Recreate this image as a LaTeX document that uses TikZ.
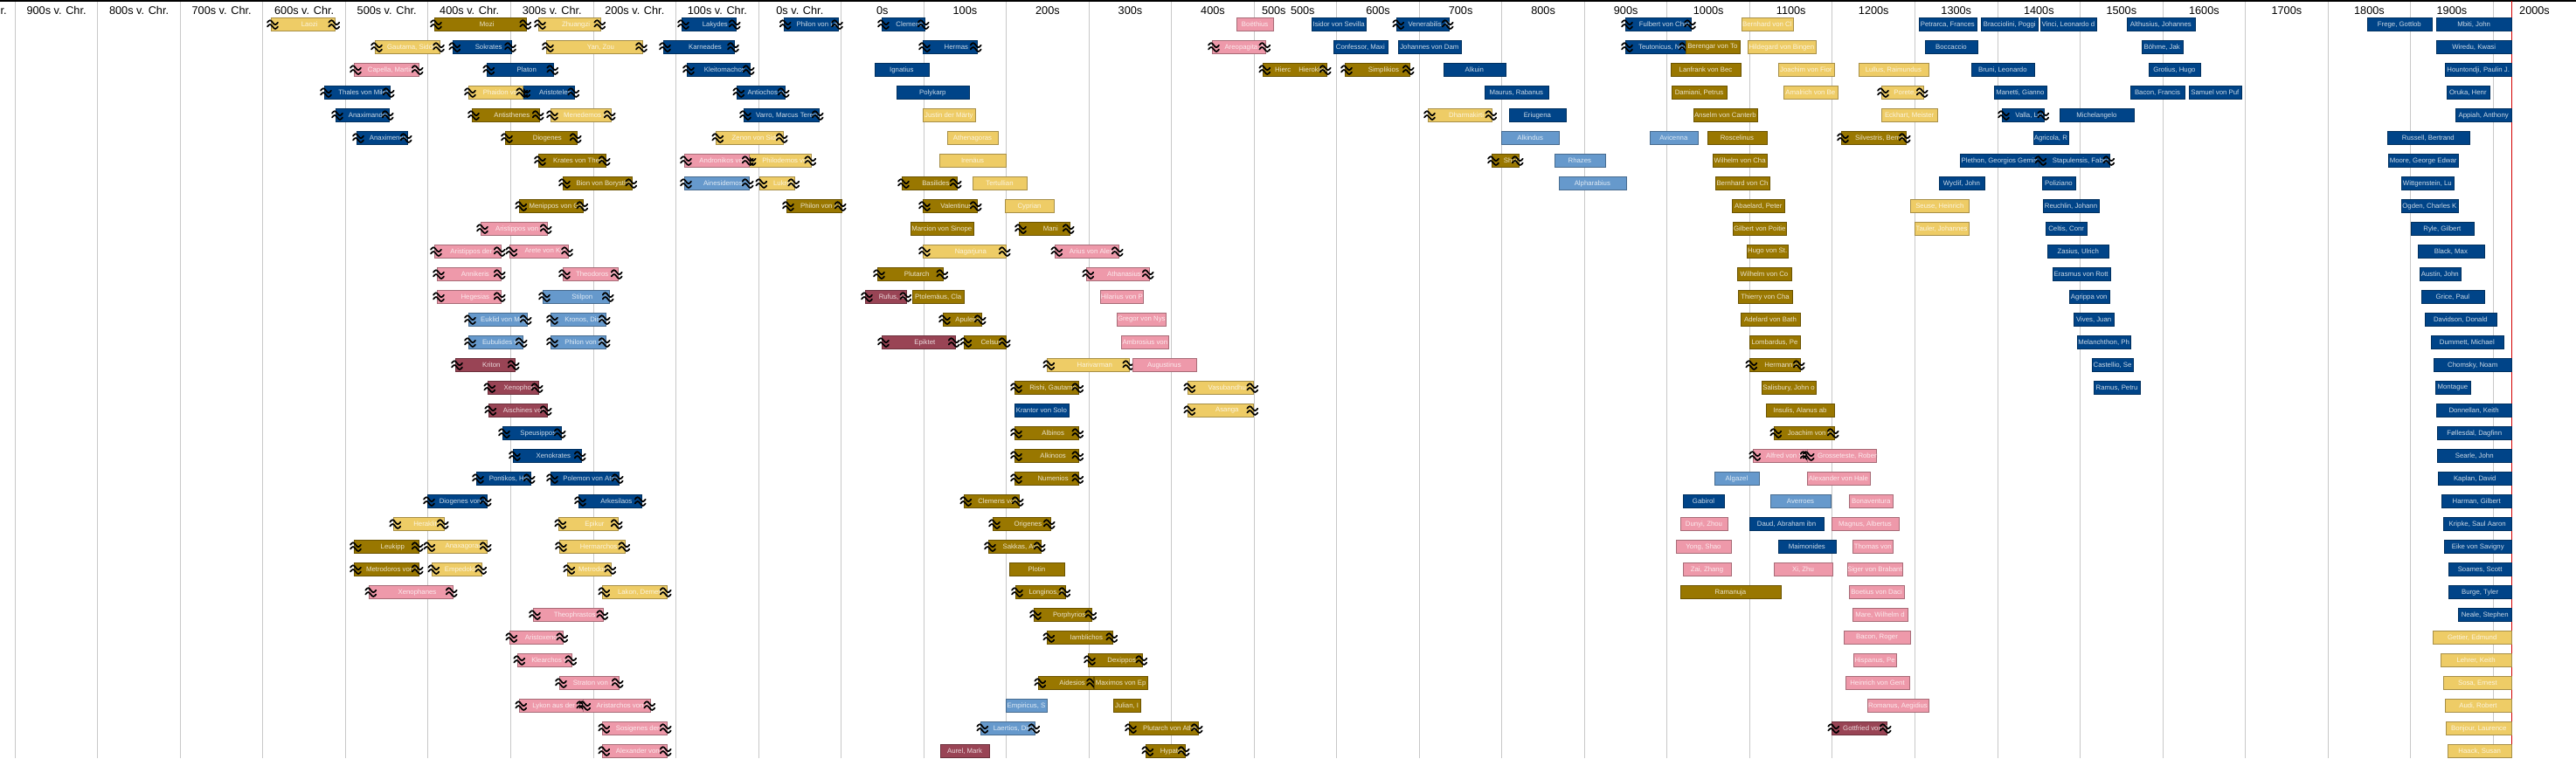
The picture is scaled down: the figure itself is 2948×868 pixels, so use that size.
\documentclass[tikz,border=0pt]{standalone}
\usepackage{fontspec}
\setmainfont{Liberation Sans}
\usepackage{tikz}
\definecolor{tolblue}{HTML}{004488}
\definecolor{tolsky}{HTML}{6699CC}
\definecolor{tololive}{HTML}{997700}
\definecolor{tolsand}{HTML}{EECC66}
\definecolor{tolrose}{HTML}{EE99AA}
\definecolor{tolwine}{HTML}{994455}
\definecolor{gridgrey}{HTML}{C8C8C8}
\definecolor{nowred}{HTML}{D40000}
\newcounter{barno}
\tikzset{
  era/.style={font=\fontsize{12.7}{14}\selectfont, anchor=base, inner sep=0pt},
  century/.style={draw=gridgrey, line width=1pt},
  life/.style={fill=#1, draw=#1!70!black, line width=0.8pt, minimum height=15pt, inner sep=0pt, anchor=west},
  nm/.style={font=\fontsize{7.8}{9}\selectfont, text=#1!20!white, inner sep=0pt},
  approx/.pic={\draw[line width=1.7pt, line cap=round] (-6,-2.3) sin (-3,-4.8) cos (0,-2.3) sin (3,0.2) cos (6,-2.3)
                 (-6,2.5) sin (-3,0) cos (0,2.5) sin (3,5) cos (6,2.5);},
}
% colour, from, to, row, approx ends (1 left, 2 right, 3 both), name
\newcommand\lifebar[6]{%
  \stepcounter{barno}%
  \pgfmathsetmacro\barw{#3-#2}%
  \pgfmathsetmacro\bary{28+26*#4}%
  \pgfmathsetmacro\namex{(#2+#3+15*mod(#5,2))/2}%
  \node[life=#1, minimum width=\barw pt] (bar\thebarno) at (#2,\bary) {};
  \begin{scope}
    \clip (bar\thebarno.south west) rectangle (bar\thebarno.north east);
    \node[nm=#1] (name\thebarno) at (\namex,\bary) {#6};
  \end{scope}
  \ifodd#5\relax \pic at ({#2+2},\bary) {approx};\fi
  \ifnum#5>1\relax \pic at ({#3-1},\bary) {approx};\fi
}

\begin{document}
\begin{tikzpicture}[x=1pt, y=-1pt]
  \path[use as bounding box, fill=white] (0,0) rectangle (2948,868);
  % centuries
  \foreach \n in {0,...,30}
    \draw[century] ({17.3+94.53*\n},1) -- ++(0,867);
  \foreach \t [count=\k from -1] in {1000s v. Chr., 900s v. Chr., 800s v. Chr., 700s v. Chr., 600s v. Chr., 500s v. Chr., 400s v. Chr., 300s v. Chr., 200s v. Chr., 100s v. Chr., 0s v. Chr., 0s, 100s, 200s, 300s, 400s}
    \node[era] (era\k) at ({64.57+94.53*(\k)},16.5) {\t};
  \node[era] (era15a) at (1457.8,16.5) {500s};
  \node[era] (era15b) at (1490.8,16.5) {500s};
  \foreach \t [count=\k from 16] in {600s, 700s, 800s, 900s, 1000s, 1100s, 1200s, 1300s, 1400s, 1500s, 1600s, 1700s, 1800s, 1900s, 2000s}
    \node[era] (era\k) at ({64.57+94.53*(\k)},16.5) {\t};
  \draw[black, line width=1.5pt] (0,0.75) -- (2948,0.75);
  \draw[nowred, line width=1.2pt] (2874.3,1) -- (2874.3,868);

  % dark blue
  \foreach \xa/\xb/\rw/\ap/\nm in {371/445.7/3/3/Thales von Milet, 384/444.7/4/3/Anaximander, 408/465.7/5/3/Anaximenes,
    518.3/585/1/3/Sokrates, 557.3/633.3/2/3/Platon, 598.3/657.3/3/3/Aristoteles, 780/841.7/0/3/Lakydes,
    896.7/959/0/3/Philon von La, 759/840/1/3/Karneades, 786/857.7/2/3/Kleitomachos, 843.3/897.7/3/3/Antiochos vo,
    851/936.7/4/3/{Varro, Marcus Terent}, 1009/1057.7/0/3/Clemens, 1056/1117.7/1/3/Hermas, 1001/1062.7/2/0/Ignatius,
    1026/1108.7/3/0/Polykarp, 1501/1563.3/0/0/Isidor von Sevilla, 1598.3/1657.7/0/3/{Venerabilis, B},
    1526/1587.7/1/0/{Confessor, Maxi}, 1600/1671.7/1/0/Johannes von Dam, 1652/1722.7/2/0/Alkuin,
    1699/1771.7/3/0/{Maurus, Rabanus}, 1727/1791.7/4/0/Eriugena, 1860/1935/0/3/Fulbert von Char,
    1860/1929/1/3/{Teutonicus, Not}, 2196/2261.7/0/0/{Petrarca, Frances}, 2267.3/2332.3/0/0/{Bracciolini, Poggi},
    2335/2398.7/0/0/{Vinci, Leonardo d}, 2434/2511.7/0/0/{Althusius, Johannes}, 2709/2782.7/0/0/{Frege, Gottlob},
    2788/2874.3/0/0/{Mbiti, John}, 2203/2262.7/1/0/Boccaccio, 2451/2497.5/1/0/{Böhme, Jak},
    2788/2874.3/1/0/{Wiredu, Kwasi}, 2256/2327.7/2/0/{Bruni, Leonardo}, 2459/2517.7/2/0/{Grotius, Hugo},
    2798/2874.3/2/0/{Hountondji, Paulin J.}, 2282/2341.7/3/0/{Manetti, Gianno}, 2438/2500/3/0/{Bacon, Francis},
    2505/2564.7/3/0/Samuel von Puf, 2800/2848.7/3/0/{Oruka, Henr}, 2291/2339.3/4/3/{Valla, Lor},
    2357/2441.7/4/0/Michelangelo, 2810/2874.3/4/0/{Appiah, Anthony}, 2327/2366.7/5/0/{Agricola, R},
    2732/2825.7/5/0/{Russell, Bertrand}, 2243/2333.3/6/0/{Plethon, Georgios Gemis}, 2333.3/2414.3/6/3/{Stapulensis, Faber},
    2733/2813.3/6/0/{Moore, George Edwar}, 2219/2270.7/7/0/{Wyclif, John}, 2337/2374.7/7/0/Poliziano,
    2748/2807.7/7/0/{Wittgenstein, Lu}, 2338.3/2401.7/8/0/{Reuchlin, Johann}, 2748/2812.7/8/0/{Ogden, Charles K},
    2341/2388.3/9/0/{Celtis, Conr}, 2759/2830.7/9/0/{Ryle, Gilbert}, 2343.3/2413.3/10/0/{Zasius, Ulrich},
    2767/2842.7/10/0/{Black, Max}, 575/641.7/18/3/Speusippos, 587/664.7/19/3/Xenokrates,
    545/606.7/20/3/{Pontikos, Her}, 630/707.7/20/3/Polemon von Athe, 489/556.7/21/3/Diogenes von A,
    662/733.7/21/3/Arkesilaos, 1161/1222.7/17/0/Krantor von Solo, 1926.3/1972.7/21/0/Gabirol,
    2002.3/2086.7/22/0/{Daud, Abraham ibn}, 2035/2100.7/23/0/Maimonides, 2348.5/2414.8/11/0/Erasmus von Rott,
    2768.9/2815.8/11/0/{Austin, John}, 2367.5/2414/12/0/Agrippa von, 2771.2/2842.5/12/0/{Grice, Paul},
    2373.3/2419/13/0/{Vives, Juan}, 2775.1/2856.5/13/0/{Davidson, Donald}, 2377.2/2438/14/0/{Melanchthon, Ph},
    2782.1/2864.6/14/0/{Dummett, Michael}, 2394.3/2440.8/15/0/{Castellio, Se}, 2785.2/2874.3/15/0/{Chomsky, Noam},
    2396.2/2448.9/16/0/{Ramus, Petru}, 2787.1/2826.7/16/0/Montague, 2787.9/2874.3/17/0/{Donnellan, Keith},
    2789.1/2874.3/18/0/{Føllesdal, Dagfinn}, 2789.1/2874.3/19/0/{Searle, John}, 2790.2/2874.3/20/0/{Kaplan, David},
    2794.1/2874.3/21/0/{Harman, Gilbert}, 2796/2874.3/22/0/{Kripke, Saul Aaron}, 2797.2/2874.3/23/0/Eike von Savigny,
    2801.9/2874.3/24/0/{Soames, Scott}, 2801.9/2874.3/25/0/{Burge, Tyler}, 2813.1/2874.3/26/0/{Neale, Stephen}}
    {\lifebar{tolblue}{\xa}{\xb}{\rw}{\ap}{\nm}}

  % light blue
  \foreach \xa/\xb/\rw/\ap/\nm in {783/856.7/7/3/Ainesidemos, 621/696.7/12/3/Stilpon, 536/602.7/13/3/Euklid von Meg,
    630/692.7/13/3/{Kronos, Diod}, 536/597.7/14/3/Eubulides vo, 630/692.7/14/3/Philon von M, 1718/1784.3/5/0/Alkindus,
    1888/1942.7/5/0/Avicenna, 1779/1836.7/6/0/Rhazes, 1784/1860.7/7/0/Alpharabius, 1150.7/1198.3/30/0/{Empiricus, S},
    1122.3/1184.3/31/3/{Laertios, Diog}, 1962.3/2012.7/20/0/Algazel, 2026.3/2094.7/21/0/Averroes}
    {\lifebar{tolsky}{\xa}{\xb}{\rw}{\ap}{\nm}}

  % olive
  \foreach \xa/\xb/\rw/\ap/\nm in {497/602.3/0/3/Mozi, 540/616.7/4/3/Antisthenes, 578/659.7/5/3/Diogenes,
    616/692.7/6/3/Krates von Theb, 644/723.3/7/3/Bion von Borysthe, 594.3/667.3/8/3/Menippos von Gad,
    900/962.7/8/3/Philon von Al, 1032/1094.7/7/3/Basilides, 1056/1117.7/8/3/Valentinus, 1042/1113.7/9/0/Marcion von Sinope,
    1166/1223.7/9/3/Mani, 1445.3/1517.7/2/3/Hierc\hspace{9pt}Hierokles, 1539/1612.7/2/3/Simplikios, 1707/1737.7/6/3/Shafi,
    1929/1990.7/1/0/Berengar von To, 1912.3/1991.7/2/0/Lanfrank von Bec, 1913.3/1975.7/3/0/{Damiani, Petrus},
    1938/2010.7/4/0/Anselm von Canterb, 1954/2021.7/5/0/Roscelinus, 1960/2022.3/6/0/Wilhelm von Cha,
    1963.3/2024.7/7/0/Bernhard von Ch, 1982.3/2042.3/8/0/{Abaelard, Peter}, 1983.3/2044.3/9/0/Gilbert von Poitie,
    1999/2046.3/10/0/Hugo von St., 2107/2180.7/5/3/{Silvestris, Berna}, 405/478.7/23/3/Leukipp,
    405/478.7/24/3/Metrodoros von L, 1004/1079.3/11/3/Plutarch, 1044/1103.3/12/0/{Ptolemäus, Cla},
    1079/1122.7/13/3/Apuleius, 1103.3/1150.7/14/3/Celsus, 1161/1234.3/16/3/{Rishi, Gautama}, 1161/1234.3/18/3/Albinos,
    1161/1234.3/19/3/Alkinoos, 1161/1234.3/20/3/Numenios, 1103.3/1165.7/21/3/Clemens von, 1136/1201.7/22/3/Origenes,
    1131/1190.7/23/3/{Sakkas, Am}, 1155/1217.7/24/0/Plotin, 1162/1219.3/25/3/{Longinos, K}, 1183/1249.3/26/3/Porphyrios,
    1198.3/1273.3/27/3/Iamblichos, 1245/1307.3/28/3/Dexippos, 1188.3/1251/29/3/Aidesios, 1252/1313.3/29/0/Maximos von Ep,
    1274/1305.3/30/0/{Julian, I}, 1292/1370.7/31/3/Plutarch von Athe, 1311.3/1355.7/32/3/Hypatia,
    1988.3/2049.7/11/0/Wilhelm von Co, 1989.3/2050.7/12/0/Thierry von Cha, 1992.3/2059.7/13/0/Adelard von Bath,
    2002.3/2059.7/14/0/{Lombardus, Pe}, 2002.3/2059.7/15/3/Hermann v, 2016.3/2077.7/16/0/{Salisbury, John o},
    2021.3/2098.7/17/0/{Insulis, Alanus ab}, 2030.3/2098.7/18/3/Joachim von Fi, 1923.3/2037.7/25/0/Ramanuja}
    {\lifebar{tololive}{\xa}{\xb}{\rw}{\ap}{\nm}}

  % sand
  \foreach \xa/\xb/\rw/\ap/\nm in {310/383.3/0/3/Laozi, 429/503/1/3/{Gautama, Siddha}, 616/687.3/0/3/Zhuangzi,
    625/735/1/3/{Yan, Zou}, 536/598.3/3/3/Phaidon von, 630/698.7/4/3/Menedemos vo, 819.3/895.7/5/3/Zenon von Sido,
    856.7/928.3/6/3/Philodemos von, 869.3/909.3/7/3/Lukrez, 1056/1115.7/4/0/Justin der Märty, 1084.3/1141.7/5/0/Athenagoras,
    1075.3/1150.7/6/0/Irenäus, 1113.3/1174.7/7/0/Tertullian, 1150.3/1205.7/8/0/Cyprian, 1056/1150.7/10/3/Nagarjuna,
    1634/1707.3/4/3/Dharmakirti, 1992.7/2052/0/0/Bernhard von Cl, 2000/2077.7/1/0/Hildegard von Bingen,
    2035/2098.7/2/0/Joachim von Fior, 2127/2206.7/2/0/{Lullus, Raimundus}, 2041/2102.7/3/0/Amalrich von Be,
    2153/2200.7/3/3/{Porete, M}, 2153/2217.3/4/0/{Eckhart, Meister}, 2186.3/2253.3/8/0/{Seuse, Heinrich},
    2191/2253.3/9/0/{Tauler, Johannes}, 450.3/507.7/22/3/Heraklit, 639.3/706.7/22/3/Epikur, 489.3/556.7/23/3/Anaxagoras,
    640/715.3/23/3/Hermarchos, 494.3/551.3/24/3/Empedokles, 649.3/699.3/24/3/Metrodoros, 689.3/762.7/25/3/{Lakon, Demetri},
    1198.3/1292.3/15/3/Harivarman, 1359.3/1434.3/16/3/Vasubandhu, 1359.3/1434.3/17/3/Asanga,
    2784/2874.3/27/0/{Gettier, Edmund}, 2792.9/2874.3/28/0/{Lehrer, Keith}, 2796.4/2874.3/29/0/{Sosa, Ernest},
    2797.6/2874.3/30/0/{Audi, Robert}, 2799.1/2874.3/31/0/{Bonjour, Laurence}, 2801.1/2874.3/32/0/{Haack, Susan}}
    {\lifebar{tolsand}{\xa}{\xb}{\rw}{\ap}{\nm}}

  % rose
  \foreach \xa/\xb/\rw/\ap/\nm in {405/478.7/2/3/{Capella, Martian}, 497/572.7/10/3/Aristippos der J, 583.3/650/10/3/Arete von Kyr,
    550/625.7/9/3/Aristippos von K, 783/856.7/6/3/Andronikos von, 1415/1457.3/0/0/Boëthius, 1387/1448.3/1/3/{Areopagita, P},
    1207.3/1279.7/10/3/Arius von Alexa, 500/572.7/11/3/Annikeris, 644/706.7/11/3/Theodoros vo, 500/572.7/12/3/Hegesias,
    422.3/517.7/25/3/Xenophanes, 610/690.3/26/3/Theophrastos, 583.3/644.3/27/3/Aristoxenos, 592.3/654.3/28/3/Klearchos vo,
    640/707.7/29/3/Straton von La, 594.3/667.3/30/3/Lykon aus der Tr, 667.3/744.3/30/3/Aristarchos von S,
    689.3/762.7/31/3/Sosigenes der P, 689.3/762.7/32/3/Alexander von A, 1243.3/1314.7/11/3/Athanasius,
    1259.3/1308.3/12/0/Hilarius von P, 1278.3/1334.3/13/0/Gregor von Nys, 1283.3/1337.3/14/0/Ambrosius von,
    1296.3/1368.5/15/0/Augustinus, 2006.3/2067.7/19/3/Alfred von Sa, 2067.7/2147.3/19/1/{Grosseteste, Robert},
    2068.3/2139.7/20/0/Alexander von Hale, 2116.3/2166.3/21/0/Bonaventura, 1923.3/1976.7/22/0/{Dunyi, Zhou},
    2096.3/2172.7/22/0/{Magnus, Albertus}, 1918.3/1980.7/23/0/{Yong, Shao}, 2120.3/2166.3/23/0/Thomas von,
    1926.3/1980.7/24/0/{Zai, Zhang}, 2030.3/2096.7/24/0/{Xi, Zhu}, 2114.3/2176.7/24/0/Siger von Brabant,
    2116.3/2178.7/25/0/Boetius von Daci, 2120.3/2182.7/26/0/{Mare, Wilhelm d}, 2110.3/2185.7/27/0/{Bacon, Roger},
    2121.3/2169.7/28/0/{Hispanus, Pe}, 2112.3/2184.7/29/0/Heinrich von Gent, 2137.3/2206.7/30/0/{Romanus, Aegidius}}
    {\lifebar{tolrose}{\xa}{\xb}{\rw}{\ap}{\nm}}

  % wine
  \foreach \xa/\xb/\rw/\ap/\nm in {521/588.7/15/3/Kriton, 558.3/615.7/16/3/Xenophon, 559.3/625.7/17/3/Aischines von,
    990/1037.3/12/3/{Rufus, G}, 1009/1092.7/14/3/Epiktet, 1076.3/1131.7/32/0/{Aurel, Mark}, 2096.3/2158.7/31/3/Gottfried von F}
    {\lifebar{tolwine}{\xa}{\xb}{\rw}{\ap}{\nm}}
\end{tikzpicture}
\end{document}
